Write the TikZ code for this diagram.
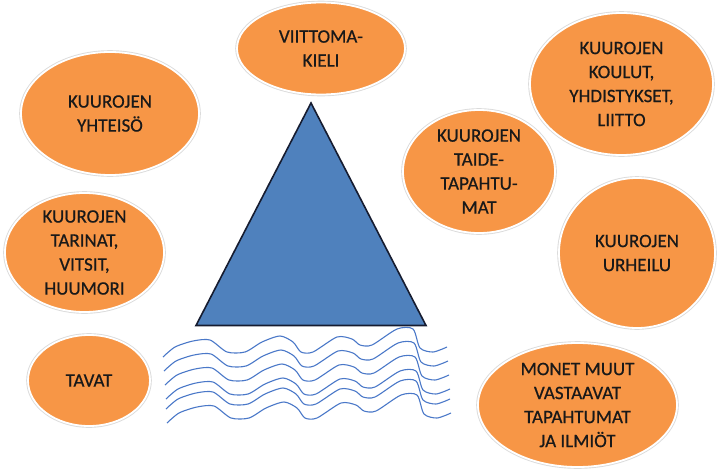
\documentclass[tikz,border=0pt]{standalone}
\usepackage{fontspec}
\setmainfont{Carlito}
\newfontfamily\bubblefont{Carlito}[FakeBold=0.6]
\usetikzlibrary{shapes.geometric}
\definecolor{bubble}{RGB}{247,150,70}
\definecolor{peak}{RGB}{79,129,189}
\definecolor{peakline}{RGB}{22,28,48}
\definecolor{sea}{RGB}{74,120,200}
\tikzstyle{bubble} = [ellipse, fill=bubble, draw=white, line width=1.8pt, inner sep=-6pt, align=center,
  preaction={draw=black!14, line width=3.6pt}, text=black!90,
  font=\bubblefont\fontsize{19}{24}\selectfont]
\tikzset{wave/.style = {
    draw=sea,
    line width=1.1pt,
    line join=round,
  }
}

\begin{document}
\begin{tikzpicture}[x=1pt, y=-1pt]
            \useasboundingbox (0,0) rectangle (717,469);
            % iceberg
            \coordinate (top) at (311,103);
            \coordinate (bl) at (196,325.5);
            \coordinate (br) at (426,325.5);
            \filldraw[fill=peak, draw=peakline, line width=1.6pt, line join=miter] (top) -- (br) -- (bl) -- cycle;

            % water lines
            \foreach \dy/\dx in {0/0, 14/1, 28/2, 42/3, 52/3, 66/4} {
              \draw[wave, yshift=-\dy pt, xshift=\dx pt] plot[smooth, tension=0.45] coordinates {
                (163,357) (175,347) (193,341) (210,340) (227,352) (245,352) (262,342) (280,336) (293,342)
                (301,352) (313,352) (337,337) (352,339) (360,345) (372,345) (397,329) (413,329)
                (420,348) (433,352) (447,347)};
            }

            % bubbles
            \node[bubble, minimum width=168pt, minimum height=92pt] (kieli) at (321,48.5) {VIITTOMA-\\KIELI};
            \node[bubble, minimum width=178pt, minimum height=123pt] (yhteiso) at (110,113.5) {KUUROJEN\\YHTEISÖ};
            \node[bubble, minimum width=159pt, minimum height=119pt] (tarinat) at (84.5,252.5) {KUUROJEN\\TARINAT,\\VITSIT,\\HUUMORI};
            \node[bubble, minimum width=122pt, minimum height=91pt] (tavat) at (89,380.5) {TAVAT};
            \node[bubble, minimum width=183pt, minimum height=142pt] (koulut) at (621.5,84) {KUUROJEN\\KOULUT,\\YHDISTYKSET,\\LIITTO};
            \node[bubble, minimum width=152pt, minimum height=123pt] (taide) at (479,171.5) {KUUROJEN\\TAIDE-\\TAPAHTU-\\MAT};
            \node[bubble, minimum width=156pt, minimum height=150pt] (urheilu) at (637,253) {KUUROJEN\\URHEILU};
            \node[bubble, minimum width=199pt, minimum height=124pt] (muut) at (577.5,405) {MONET MUUT\\VASTAAVAT\\TAPAHTUMAT\\JA ILMIÖT};
\end{tikzpicture}
\end{document}
